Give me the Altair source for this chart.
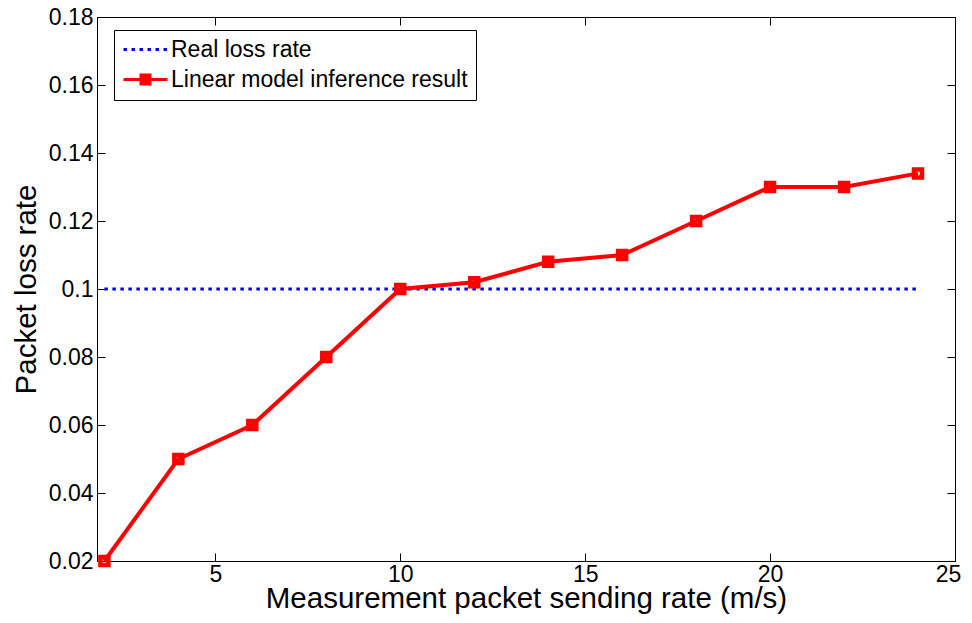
import altair as alt
import pandas as pd

# ---- data ----
rate = [2, 4, 6, 8, 10, 12, 14, 16, 18, 20, 22, 24]
inferred = [0.02, 0.05, 0.06, 0.08, 0.10, 0.102, 0.108, 0.110, 0.120, 0.130, 0.130, 0.134]
real = [0.1, 0.1, 0.1, 0.1, 0.1, 0.1, 0.1, 0.1, 0.1, 0.1, 0.1, 0.1]
series_names = ["Real loss rate", "Linear model inference result"]
series_colors = ["#0000FF", "#FF0000"]
x_ticks = [5, 10, 15, 20, 25]
y_ticks = [0.02, 0.04, 0.06, 0.08, 0.10, 0.12, 0.14, 0.16, 0.18]
x_domain = [1.8, 25]
y_domain = [0.02, 0.18]

df_real = pd.DataFrame({"rate": rate, "loss": real, "series": series_names[0]})
df_inf = pd.DataFrame({"rate": rate, "loss": inferred, "series": series_names[1]})
df_all = pd.concat([df_real, df_inf], ignore_index=True)

FONT = "Liberation Sans"
TICK = 8

xs = alt.Scale(domain=x_domain, nice=False, zero=False)
ys = alt.Scale(domain=y_domain, nice=False, zero=False)

main_x = alt.Axis(values=x_ticks, ticks=False, tickSize=0, domain=False, grid=False,
                  labelPadding=2, titleY=46, titleBaseline="alphabetic",
                  labelOffset={"condition": {"test": "datum.value >= 25", "value": -7}, "value": 0},
                  labelFont=FONT, labelFontSize=23,
                  titleFont=FONT, titleFontSize=29.5, titleFontWeight="normal",
                  labelColor="black", titleColor="black", labelFlush=False)
main_y = alt.Axis(values=y_ticks, ticks=False, tickSize=0, domain=False, grid=False,
                  format="~g", labelPadding=4, titleX=-62, titleBaseline="alphabetic",
                  labelFont=FONT, labelFontSize=23, titleFont=FONT, titleFontSize=29.5,
                  titleFontWeight="normal", labelColor="black", titleColor="black",
                  labelFlush=False)


def tick_axis(orient, vals):
    return alt.Axis(orient=orient, values=vals, offset=-TICK, tickSize=TICK, ticks=True,
                    labels=False, domain=False, grid=False, title=None,
                    tickColor="black", tickWidth=1)


blue = alt.Chart(df_real).mark_line(
    color="#0000FF", strokeWidth=3, strokeDash=[3.5, 4.5]
).encode(
    x=alt.X("rate:Q", scale=xs, axis=main_x, title="Measurement packet sending rate (m/s)"),
    y=alt.Y("loss:Q", scale=ys, axis=main_y, title="Packet loss rate"),
)

red_line = alt.Chart(df_inf).mark_line(color="#FF0000", strokeWidth=4).encode(
    x=alt.X("rate:Q", scale=xs, axis=tick_axis("bottom", x_ticks)),
    y=alt.Y("loss:Q", scale=ys, axis=tick_axis("left", y_ticks)),
)

red_pts = alt.Chart(df_inf).mark_point(
    shape="square", filled=False, color="#FF0000", strokeWidth=4.5, size=64, opacity=1
).encode(
    x=alt.X("rate:Q", scale=xs, axis=tick_axis("top", x_ticks)),
    y=alt.Y("loss:Q", scale=ys, axis=tick_axis("right", y_ticks)),
)

blue_path = "M-1,0L-0.65,0M-0.2,0L0.15,0M0.6,0L0.95,0M1.4,0L1.75,0M2.2,0L2.55,0M3,0L3.35,0"
red_path = ("M-1,0L3.4,0M0.75,-0.45L1.65,-0.45L1.65,0.45L0.75,0.45Z"
            "M1.0,-0.2L1.4,-0.2L1.4,0.2L1.0,0.2Z")

legend_layer = alt.Chart(df_all).transform_filter("false").mark_point(
    filled=False, strokeWidth=3, opacity=1
).encode(
    x=alt.X("rate:Q", scale=xs, axis=None),
    y=alt.Y("loss:Q", scale=ys, axis=None),
    color=alt.Color("series:N", scale=alt.Scale(domain=series_names, range=series_colors),
                    legend=alt.Legend(title=None)),
    shape=alt.Shape("series:N", scale=alt.Scale(domain=series_names, range=[blue_path, red_path]),
                    legend=alt.Legend(title=None)),
)

chart = alt.layer(blue, red_line, red_pts, legend_layer).resolve_axis(
    x="independent", y="independent"
).properties(
    width=858, height=544,
    autosize=alt.AutoSizeParams(type="none"),
    padding={"left": 89, "top": 9, "right": 9, "bottom": 56},
    background="white",
).configure_view(
    stroke="black", strokeWidth=1
).configure_legend(
    orient="none", legendX=17, legendY=13, strokeColor="black", fillColor="white",
    padding=8, symbolStrokeWidth=3, symbolSize=400, labelFont=FONT, labelFontSize=23,
    labelColor="black", rowPadding=6, labelOffset=26, labelLimit=0, cornerRadius=0
)

chart.save("out.html", embed_options={"renderer": "svg", "actions": False})
